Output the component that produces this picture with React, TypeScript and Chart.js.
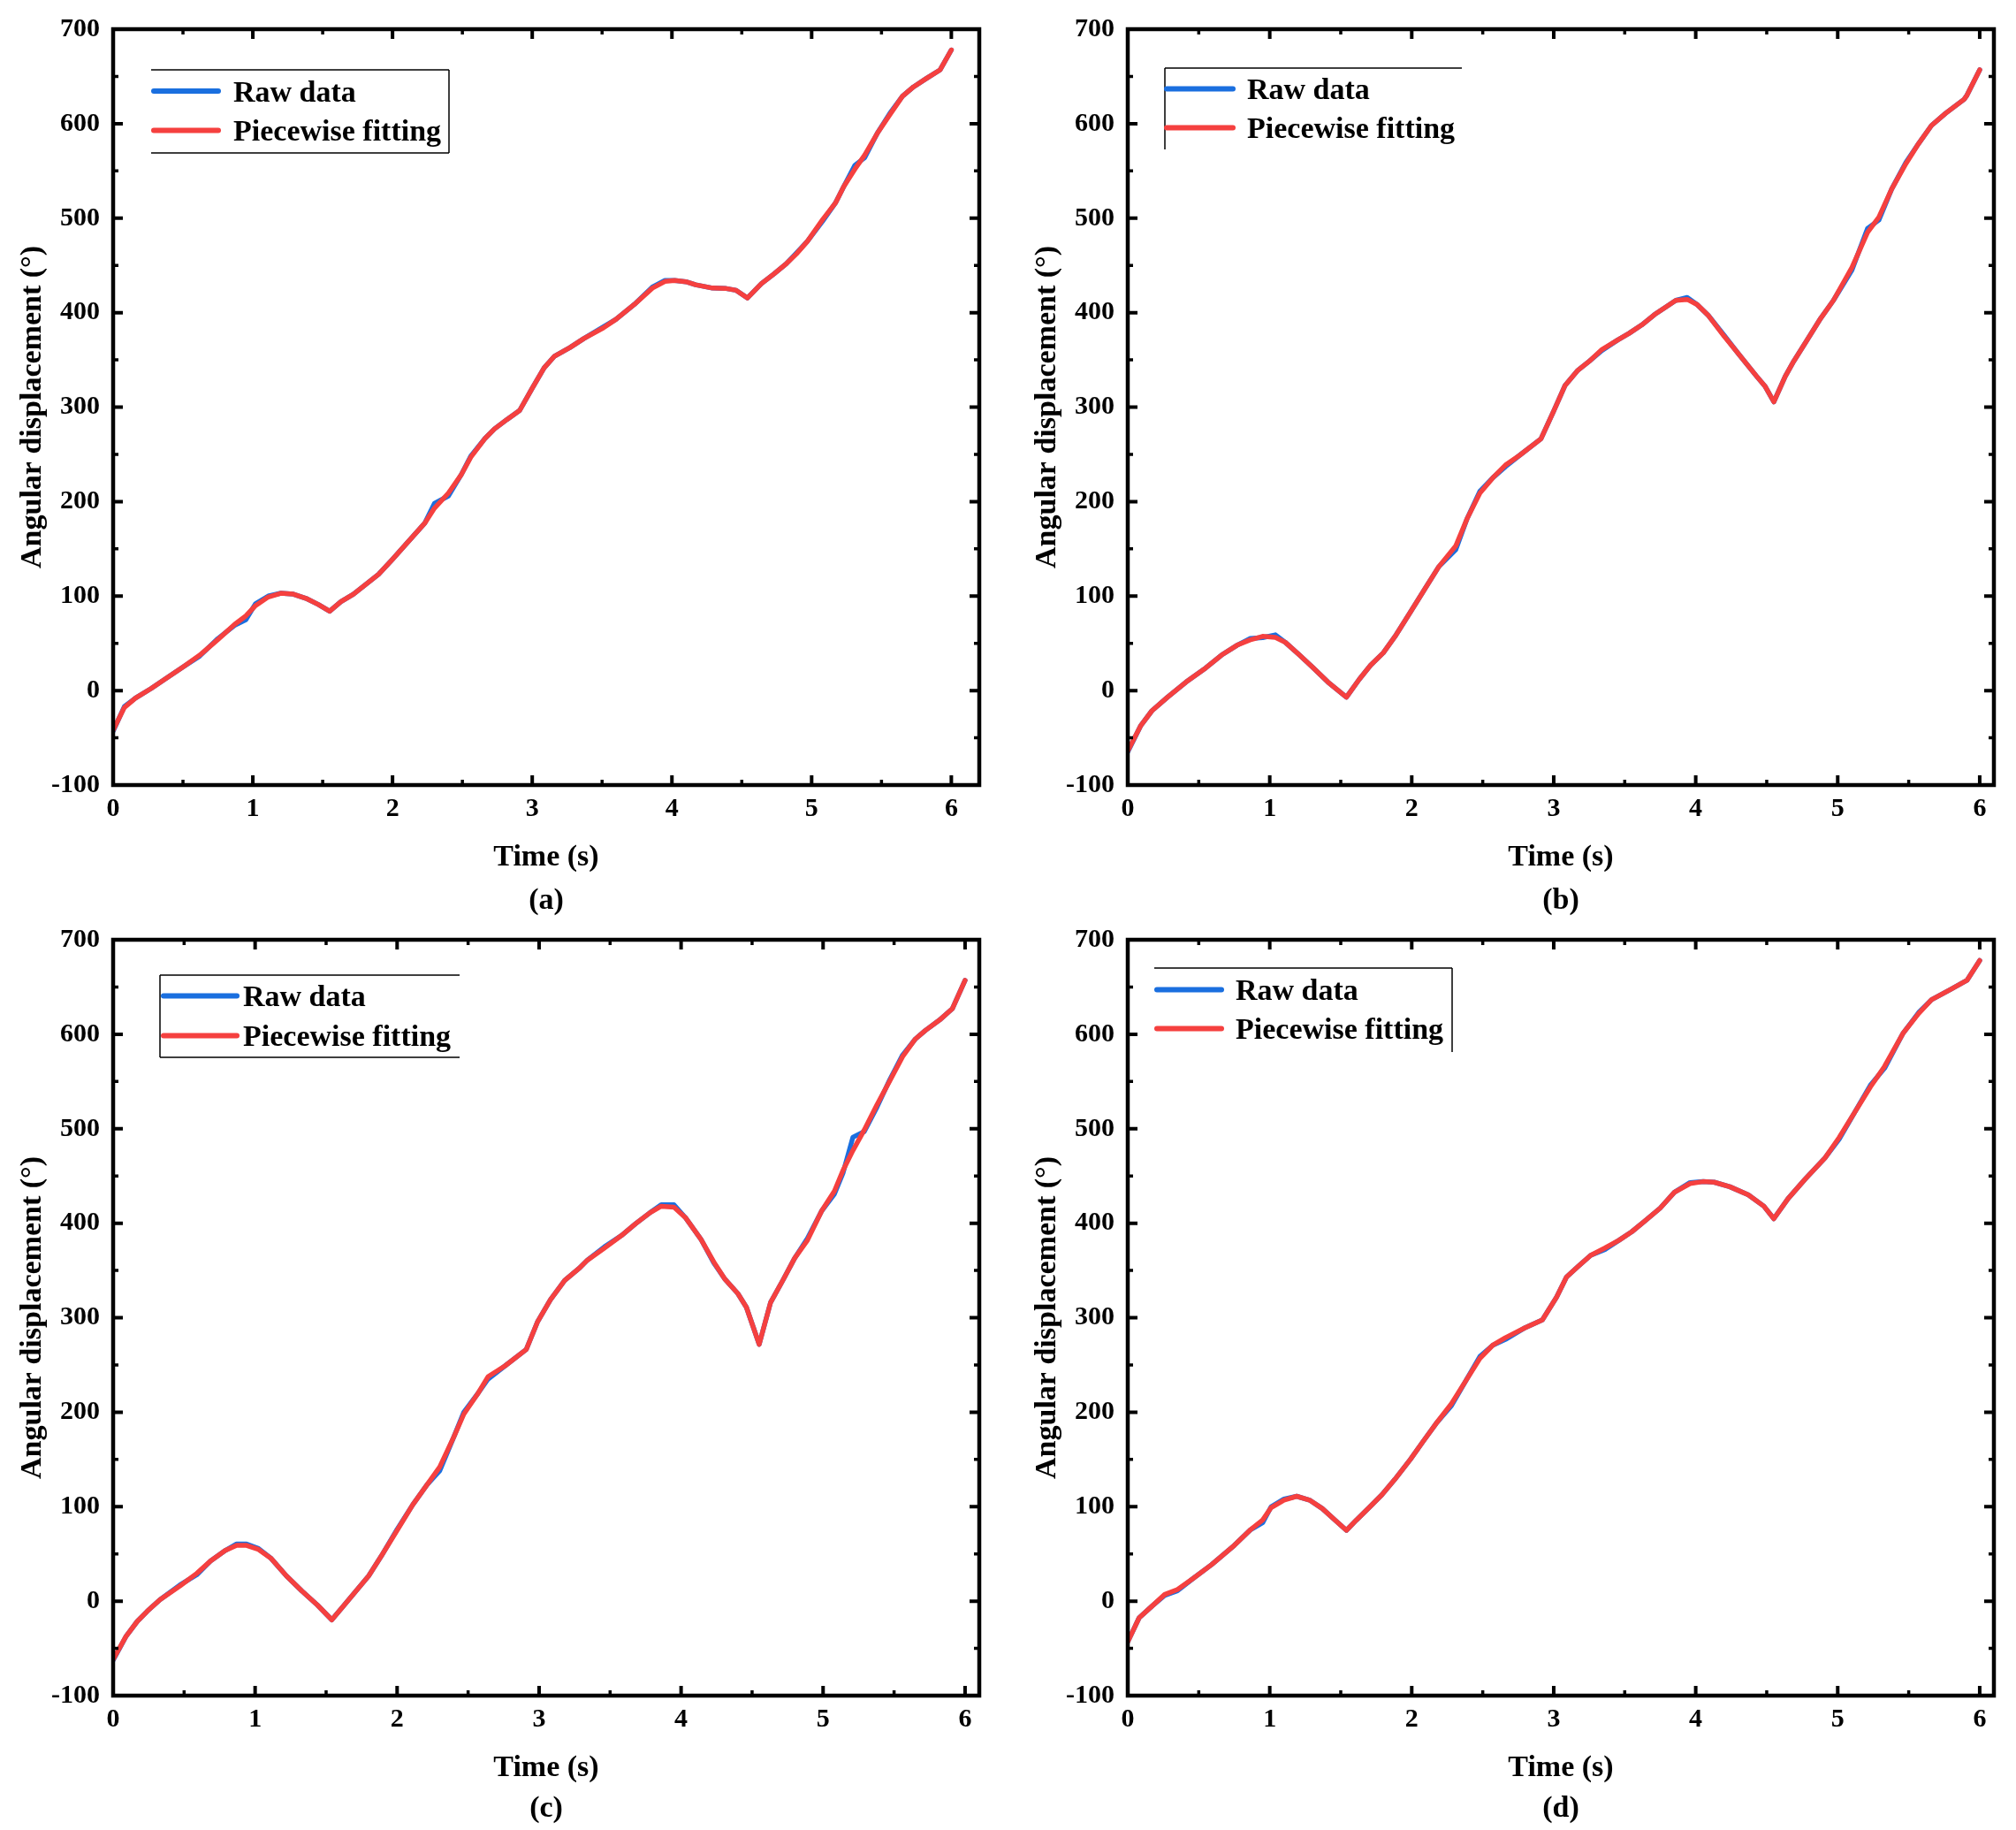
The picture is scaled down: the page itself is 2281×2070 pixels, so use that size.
import React, { useEffect, useRef } from 'react';
import { Chart, registerables } from 'chart.js';

Chart.register(...registerables);

// ---------------- data ----------------
const X_TICKS = [0, 1, 2, 3, 4, 5, 6];
const X_MINOR = [0.5, 1.5, 2.5, 3.5, 4.5, 5.5];
const Y_TICKS = [-100, 0, 100, 200, 300, 400, 500, 600, 700];
const Y_MINOR = [-50, 50, 150, 250, 350, 450, 550, 650];
const SERIES_LABELS = ['Raw data', 'Piecewise fitting'];
const PANEL_LABELS = ['(a)', '(b)', '(c)', '(d)'];
const X_TITLE = 'Time (s)';
const Y_TITLE = 'Angular displacement (°)';

const TIME_A = [0.00, 0.08, 0.16, 0.27, 0.38, 0.50, 0.62, 0.75, 0.87, 0.95, 1.02, 1.11, 1.20, 1.29, 1.38, 1.47, 1.55, 1.63, 1.72, 1.81, 1.90, 2.00, 2.10, 2.23, 2.30, 2.40, 2.49, 2.56, 2.66, 2.73, 2.82, 2.91, 3.00, 3.085, 3.16, 3.27, 3.37, 3.51, 3.60, 3.73, 3.86, 3.95, 4.02, 4.10, 4.17, 4.29, 4.38, 4.46, 4.54, 4.64, 4.73, 4.82, 4.89, 4.97, 5.08, 5.17, 5.23, 5.31, 5.38, 5.47, 5.56, 5.65, 5.73, 5.82, 5.92, 6.00];
const FIT_A = [-42, -18, -8, 2, 13, 25, 37.5, 54, 70, 79, 90, 99, 103, 102, 97.6, 91, 84, 94, 102, 112.6, 123, 139, 155.5, 177, 193, 209, 228, 247, 266.5, 277, 287, 296.5, 320, 341.5, 354, 363, 372.6, 384, 393, 408.6, 426, 433, 434, 432.7, 429.5, 426, 425.7, 423.6, 415.5, 430.6, 441, 452, 462, 475.6, 498.7, 516, 533.5, 552, 566.8, 589.8, 609.6, 629, 639, 647.7, 657, 678];
const RAW_A = [-43, -17, -8, 2, 13, 25, 36.5, 55, 69, 75, 92, 100, 103, 102, 97.6, 91, 84, 94, 102, 112.6, 123, 139, 155.5, 177, 198, 206, 228, 248, 266.5, 277, 287, 296.5, 320, 341.5, 354, 363, 372.6, 385, 393, 408.6, 427, 434, 434, 432.7, 429.5, 426, 425.7, 423.6, 415.5, 430.6, 441, 452, 463, 475.6, 497, 516, 533.5, 556, 564, 589.8, 611, 629, 639, 647.7, 657, 678];

const TIME_B = [0.00, 0.09, 0.17, 0.28, 0.41, 0.55, 0.66, 0.77, 0.86, 0.95, 1.04, 1.11, 1.21, 1.30, 1.41, 1.54, 1.63, 1.71, 1.80, 1.89, 1.99, 2.09, 2.19, 2.31, 2.39, 2.48, 2.57, 2.66, 2.76, 2.91, 3.00, 3.08, 3.17, 3.25, 3.34, 3.45, 3.53, 3.62, 3.71, 3.79, 3.86, 3.94, 4.01, 4.09, 4.20, 4.30, 4.43, 4.49, 4.55, 4.63, 4.69, 4.78, 4.88, 4.97, 5.10, 5.21, 5.29, 5.38, 5.48, 5.57, 5.66, 5.76, 5.89, 5.91, 6.00];
const FIT_B = [-64, -37.5, -21.4, -7, 9, 24, 37.5, 48, 53.6, 57.4, 56.3, 51, 37.5, 25, 9, -7, 11.8, 26.8, 40, 59, 83, 107, 131, 153, 182, 209, 225, 238.6, 249, 266.5, 296, 323, 339, 348.5, 361, 371, 378, 387, 398, 406, 413, 414, 408.6, 396.8, 375, 356.6, 332.4, 321.7, 305.6, 332.4, 348.5, 370, 394, 413, 447.7, 485, 501, 530.8, 557.6, 579, 598, 611, 625.7, 630, 657];
const RAW_B = [-65, -37.5, -21.4, -7, 9, 24, 37.5, 48, 55, 56, 59, 51, 37.5, 25, 9, -7, 11.8, 26.8, 40, 59, 83, 107, 131, 149, 182, 211, 225, 237, 249, 266.5, 296, 323, 339, 348.5, 360, 371, 378, 387, 398, 406, 413, 416, 408.6, 396.8, 376, 356.6, 332.4, 321.7, 305.6, 332.4, 348.5, 370, 394, 413, 445, 489, 498, 530.8, 559, 579, 598, 611, 625.7, 630, 657];

const TIME_C = [0.00, 0.09, 0.17, 0.24, 0.33, 0.47, 0.59, 0.69, 0.79, 0.87, 0.94, 1.02, 1.11, 1.22, 1.33, 1.44, 1.54, 1.62, 1.71, 1.80, 1.89, 2.00, 2.11, 2.21, 2.30, 2.40, 2.47, 2.57, 2.64, 2.76, 2.91, 2.99, 3.08, 3.18, 3.28, 3.34, 3.46, 3.58, 3.68, 3.78, 3.86, 3.95, 4.03, 4.14, 4.23, 4.31, 4.40, 4.46, 4.55, 4.63, 4.72, 4.80, 4.89, 4.99, 5.08, 5.14, 5.21, 5.29, 5.38, 5.47, 5.56, 5.65, 5.72, 5.82, 5.91, 6.00];
const FIT_C = [-61.7, -37.5, -21.4, -10.7, 1.6, 16, 29.5, 43, 53.6, 59, 59, 55, 45.6, 26.8, 10.7, -4.3, -19.8, -5.4, 10.7, 26.8, 48, 75, 102, 123, 142, 174, 198, 220, 237.5, 249, 266.5, 296, 319, 339.4, 352, 360.9, 373.7, 387, 399.5, 411, 418, 417, 406, 383, 359, 340.5, 325.5, 311, 271.8, 316, 340.5, 363, 382, 413, 434, 455.8, 477, 498.7, 525.5, 550.7, 576.4, 595, 604, 615, 627, 657];
const RAW_C = [-62.5, -37.5, -21.4, -10.7, 1.6, 17, 28, 43, 53.6, 60.5, 60.5, 56, 45.6, 26.8, 10.7, -4.3, -19.8, -5.4, 10.7, 26.8, 48, 76, 102, 123, 138, 174, 200, 220, 235, 249, 266.5, 296, 319, 339.4, 352, 360.9, 375, 387, 399.5, 411, 419.5, 419.5, 406, 383, 358, 340.5, 325.5, 311, 271.8, 316, 340.5, 363, 384, 413, 431, 453, 491, 497, 523, 552, 578, 595, 604, 615, 627, 657];

const TIME_D = [0.00, 0.08, 0.17, 0.26, 0.35, 0.46, 0.59, 0.75, 0.86, 0.95, 1.01, 1.10, 1.19, 1.28, 1.37, 1.46, 1.54, 1.61, 1.70, 1.79, 1.88, 1.99, 2.08, 2.17, 2.28, 2.38, 2.48, 2.57, 2.66, 2.80, 2.92, 3.02, 3.09, 3.17, 3.26, 3.36, 3.46, 3.55, 3.64, 3.75, 3.85, 3.96, 4.05, 4.13, 4.24, 4.37, 4.48, 4.55, 4.65, 4.77, 4.91, 5.01, 5.12, 5.23, 5.33, 5.46, 5.57, 5.66, 5.79, 5.91, 6.00];
const FIT_D = [-43, -17.7, -5.4, 7, 12.3, 24, 38.6, 59, 75, 85.8, 99, 107, 111, 107, 98, 85.8, 75, 85.8, 99, 112.6, 128.7, 150, 169, 187.7, 209, 233, 257, 270.8, 278.8, 289.5, 297.6, 321.7, 343, 354, 366, 373.7, 382, 391, 402, 416, 432.7, 442, 444, 443.4, 438.6, 430, 418, 404.8, 426, 446.6, 469, 490.6, 517.4, 544.2, 566, 601, 622, 636.5, 647, 657, 678];
const RAW_D = [-43, -17.7, -5.4, 6, 11, 24, 38.6, 59, 75, 83, 100, 108, 111, 107, 98, 85.8, 75, 85.8, 99, 112.6, 128.7, 150, 169, 187.7, 207, 233, 259, 270.8, 277, 289.5, 297.6, 321.7, 343, 354, 366, 372, 382, 391, 402, 416, 432.7, 443, 444, 443.4, 438.6, 430, 418, 404.8, 426, 446.6, 469, 489, 517.4, 546, 564, 601, 623, 636.5, 647, 657, 678];

// ---------------- styling / layout ----------------
const FONT = "'Liberation Serif', 'Times New Roman', serif";
const RAW_COLOR = '#1a6fdf';
const FIT_COLOR = '#f5403f';
const CANVAS_H = 1040;

type LegendGeom = {
  left: number; top: number; right: number; bottom: number;
  sides: string[];
  lineX: [number, number];
  rowY: [number, number];
  textX: number;
};

type Panel = {
  left: number; top: number; width: number; xMax: number;
  time: number[]; raw: number[]; fit: number[];
  label: string; capPad: { top: number; bottom: number }; legend: LegendGeom;
};

const PANELS: Panel[] = [
  {
    left: 0, top: 0, width: 1140, xMax: 6.2, time: TIME_A, raw: RAW_A, fit: FIT_A, label: PANEL_LABELS[0], capPad: { top: 3, bottom: 0 },
    legend: { left: 171, top: 79, right: 508, bottom: 173, sides: ['top', 'right', 'bottom'], lineX: [174, 247], rowY: [103, 147.5], textX: 264 },
  },
  {
    left: 1148, top: 0, width: 1133, xMax: 6.1, time: TIME_B, raw: RAW_B, fit: FIT_B, label: PANEL_LABELS[1], capPad: { top: 3, bottom: 0 },
    legend: { left: 170, top: 77, right: 506, bottom: 169, sides: ['top', 'left'], lineX: [172, 247], rowY: [100.5, 144.5], textX: 263 },
  },
  {
    left: 0, top: 1030, width: 1140, xMax: 6.1, time: TIME_C, raw: RAW_C, fit: FIT_C, label: PANEL_LABELS[2], capPad: { top: 0, bottom: 3 },
    legend: { left: 181, top: 73, right: 520, bottom: 166, sides: ['top', 'left', 'bottom'], lineX: [185, 268], rowY: [96.5, 141.5], textX: 275 },
  },
  {
    left: 1148, top: 1030, width: 1133, xMax: 6.1, time: TIME_D, raw: RAW_D, fit: FIT_D, label: PANEL_LABELS[3], capPad: { top: 0, bottom: 3 },
    legend: { left: 158, top: 65, right: 495, bottom: 160, sides: ['top', 'right'], lineX: [161, 234], rowY: [89.5, 133.5], textX: 250 },
  },
];

const frameTicksPlugin = {
  id: 'frameTicks',
  afterDatasetsDraw(chart: any) {
    const { ctx, chartArea } = chart;
    const { left, top, right, bottom } = chartArea;
    const x = chart.scales.x;
    const y = chart.scales.y;
    ctx.save();
    ctx.strokeStyle = '#000';
    ctx.lineCap = 'butt';
    const xt = (vals: number[], len: number, w: number) => {
      ctx.lineWidth = w;
      vals.forEach((v) => {
        const px = x.getPixelForValue(v);
        ctx.beginPath();
        ctx.moveTo(px, bottom);
        ctx.lineTo(px, bottom - len);
        ctx.moveTo(px, top);
        ctx.lineTo(px, top + len);
        ctx.stroke();
      });
    };
    const yt = (vals: number[], len: number, w: number) => {
      ctx.lineWidth = w;
      vals.forEach((v) => {
        const py = y.getPixelForValue(v);
        ctx.beginPath();
        ctx.moveTo(left, py);
        ctx.lineTo(left + len, py);
        ctx.moveTo(right, py);
        ctx.lineTo(right - len, py);
        ctx.stroke();
      });
    };
    xt(X_TICKS, 11, 4);
    xt(X_MINOR, 6, 3.5);
    yt(Y_TICKS, 11, 4);
    yt(Y_MINOR, 6, 3.5);
    ctx.lineWidth = 4.5;
    ctx.strokeRect(left, top, right - left, bottom - top);
    ctx.restore();
  },
  afterDraw(chart: any, _args: any, opts: any) {
    const g: LegendGeom = opts.legend;
    if (!g) return;
    const { ctx } = chart;
    ctx.save();
    ctx.strokeStyle = '#000';
    ctx.lineWidth = 1.5;
    ctx.beginPath();
    if (g.sides.includes('top')) { ctx.moveTo(g.left, g.top); ctx.lineTo(g.right, g.top); }
    if (g.sides.includes('bottom')) { ctx.moveTo(g.left, g.bottom); ctx.lineTo(g.right, g.bottom); }
    if (g.sides.includes('left')) { ctx.moveTo(g.left, g.top); ctx.lineTo(g.left, g.bottom); }
    if (g.sides.includes('right')) { ctx.moveTo(g.right, g.top); ctx.lineTo(g.right, g.bottom); }
    ctx.stroke();
    chart.data.datasets.forEach((ds: any, i: number) => {
      const yy = g.rowY[i];
      ctx.strokeStyle = ds.borderColor;
      ctx.lineWidth = 6;
      ctx.lineCap = 'round';
      ctx.beginPath();
      ctx.moveTo(g.lineX[0], yy);
      ctx.lineTo(g.lineX[1], yy);
      ctx.stroke();
      ctx.fillStyle = '#000';
      ctx.font = `bold 34px ${FONT}`;
      ctx.textAlign = 'left';
      ctx.textBaseline = 'middle';
      ctx.fillText(ds.label, g.textX, yy + 3);
    });
    ctx.restore();
  },
};

function PanelChart({ p }: { p: Panel }) {
  const ref = useRef<HTMLCanvasElement | null>(null);
  useEffect(() => {
    if (!ref.current) return;
    const rawPts = p.time.map((t, i) => ({ x: t, y: p.raw[i] }));
    const fitPts = p.time.map((t, i) => ({ x: t, y: p.fit[i] }));
    const chart = new Chart(ref.current, {
      type: 'line',
      data: {
        datasets: [
          {
            label: SERIES_LABELS[0], data: rawPts, borderColor: RAW_COLOR, backgroundColor: RAW_COLOR,
            borderWidth: 5.5, pointRadius: 0, tension: 0, order: 2, borderJoinStyle: 'round', borderCapStyle: 'round',
          },
          {
            label: SERIES_LABELS[1], data: fitPts, borderColor: FIT_COLOR, backgroundColor: FIT_COLOR,
            borderWidth: 5.5, pointRadius: 0, tension: 0, order: 1, borderJoinStyle: 'round', borderCapStyle: 'round',
          },
        ],
      },
      options: {
        responsive: false,
        animation: false,
        devicePixelRatio: 1,
        events: [],
        layout: { padding: { left: 0, top: 31, right: p.width - 1108, bottom: 0 } },
        scales: {
          x: {
            type: 'linear',
            min: 0,
            max: p.xMax,
            afterBuildTicks: (s: any) => { s.ticks = X_TICKS.map((v) => ({ value: v })); },
            afterFit: (s: any) => { s.height = 108.2; },
            grid: { display: false, drawTicks: false },
            border: { display: false },
            ticks: { padding: 9, color: '#000', font: { family: FONT, size: 30, weight: 'bold' }, maxRotation: 0, autoSkip: false },
            title: { display: true, text: X_TITLE, color: '#000', font: { family: FONT, size: 34, weight: 'bold' }, padding: { top: 0, bottom: 5.8 } },
          },
          y: {
            type: 'linear',
            min: -100,
            max: 700,
            afterBuildTicks: (s: any) => { s.ticks = Y_TICKS.map((v) => ({ value: v })); },
            afterFit: (s: any) => { s.width = 128; },
            grid: { display: false, drawTicks: false },
            border: { display: false },
            ticks: { padding: 15, color: '#000', font: { family: FONT, size: 30, weight: 'bold' }, autoSkip: false },
            title: { display: true, text: Y_TITLE, color: '#000', font: { family: FONT, size: 34, weight: 'bold' }, padding: { top: 16.6, bottom: 0 } },
          },
        },
        plugins: {
          legend: { display: false },
          tooltip: { enabled: false },
          title: {
            display: true, position: 'bottom', fullSize: false, text: p.label, color: '#000',
            font: { family: FONT, size: 34, weight: 'bold' }, padding: p.capPad,
          },
          frameTicks: { legend: p.legend },
        } as any,
      } as any,
      plugins: [frameTicksPlugin],
    });
    return () => chart.destroy();
  }, [p]);
  return (
    <canvas
      ref={ref}
      width={p.width}
      height={CANVAS_H}
      style={{ position: 'absolute', left: p.left, top: p.top, width: p.width, height: CANVAS_H }}
    />
  );
}

export default function App() {
  return (
    <div style={{ position: 'absolute', left: 0, top: 0, width: 2281, height: 2070, background: '#fff', overflow: 'hidden' }}>
      {PANELS.map((p) => (
        <PanelChart key={p.label} p={p} />
      ))}
    </div>
  );
}
